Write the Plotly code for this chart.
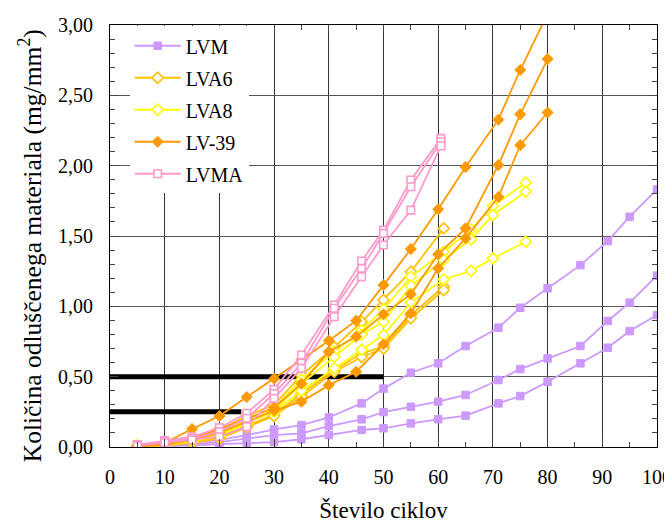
import plotly.graph_objects as go

# ---------------- data ----------------
LVM_x = [5, 10, 15, 20, 25, 30, 35, 40, 46, 50, 55, 60, 65, 71, 75, 80, 86, 91, 95, 100]
LVM_1 = [0.01, 0.015, 0.03, 0.05, 0.085, 0.125, 0.156, 0.21, 0.31, 0.415, 0.528, 0.595, 0.718, 0.848, 0.99, 1.128, 1.293, 1.464, 1.637, 1.831]
LVM_2 = [0.005, 0.01, 0.02, 0.035, 0.062, 0.085, 0.097, 0.149, 0.197, 0.248, 0.286, 0.322, 0.37, 0.476, 0.554, 0.63, 0.718, 0.896, 1.026, 1.218]
LVM_3 = [0.003, 0.005, 0.01, 0.02, 0.03, 0.035, 0.055, 0.085, 0.121, 0.133, 0.168, 0.197, 0.223, 0.31, 0.362, 0.464, 0.595, 0.706, 0.824, 0.938]

LVA6_x = [5, 10, 15, 20, 25, 30, 35, 41, 46, 50, 55, 61]
LVA6_1 = [0.01, 0.03, 0.06, 0.12, 0.22, 0.30, 0.51, 0.71, 0.89, 1.045, 1.246, 1.554]
LVA6_2 = [0.005, 0.02, 0.04, 0.07, 0.15, 0.23, 0.38, 0.547, 0.666, 0.713, 0.938, 1.139]
LVA6_3 = [0.005, 0.01, 0.03, 0.06, 0.14, 0.22, 0.358, 0.535, 0.64, 0.70, 0.915, 1.116]

LVA8_x = [5, 10, 15, 20, 25, 30, 35, 41, 46, 50, 55, 61, 66, 70, 76]
LVA8_1 = [0.01, 0.025, 0.05, 0.10, 0.20, 0.28, 0.48, 0.68, 0.83, 0.979, 1.21, 1.388, 1.547, 1.713, 1.879]
LVA8_2 = [0.01, 0.02, 0.045, 0.09, 0.18, 0.26, 0.45, 0.64, 0.80, 0.89, 1.146, 1.329, 1.476, 1.649, 1.815]
LVA8_3 = [0.005, 0.015, 0.04, 0.08, 0.17, 0.25, 0.40, 0.56, 0.69, 0.796, 1.028, 1.192, 1.253, 1.341, 1.459]

LV39_x = [5, 10, 15, 20, 25, 30, 35, 40, 45, 50, 55, 60, 65, 71, 75, 80]
LV39_1 = [0.005, 0.03, 0.128, 0.22, 0.355, 0.485, 0.62, 0.756, 0.898, 1.151, 1.407, 1.69, 1.99, 2.327, 2.68, 3.08]
LV39_2 = [0.005, 0.02, 0.06, 0.13, 0.20, 0.28, 0.45, 0.677, 0.784, 0.943, 1.087, 1.37, 1.554, 2.004, 2.365, 2.758]
LV39_3 = [0.005, 0.015, 0.05, 0.10, 0.18, 0.258, 0.322, 0.44, 0.535, 0.73, 0.95, 1.27, 1.483, 1.777, 2.146, 2.378]

LVMA_x = [5, 10, 15, 20, 25, 30, 35, 41, 46, 50, 55, 60.5]
LVMA_1 = [0.015, 0.045, 0.073, 0.137, 0.24, 0.41, 0.654, 1.009, 1.322, 1.542, 1.898, 2.194]
LVMA_2 = [0.015, 0.04, 0.06, 0.109, 0.204, 0.38, 0.595, 0.986, 1.27, 1.519, 1.85, 2.17]
LVMA_3 = [0.01, 0.03, 0.05, 0.073, 0.144, 0.346, 0.559, 0.926, 1.21, 1.436, 1.684, 2.14]

# reference (threshold) lines
REF1_x = [0, 50]
REF1_y = [0.5, 0.5]
REF2_x = [0, 24]
REF2_y = [0.25, 0.25]

x_ticks = [0, 10, 20, 30, 40, 50, 60, 70, 80, 90, 100]
y_ticks = [0, 0.5, 1.0, 1.5, 2.0, 2.5, 3.0]

FONT = "Liberation Serif, Times New Roman, serif"

fig = go.Figure()

for rx, ry in [(REF1_x, REF1_y), (REF2_x, REF2_y)]:
    fig.add_trace(go.Scatter(x=rx, y=ry, mode="lines",
                             line=dict(color="black", width=5),
                             showlegend=False, hoverinfo="skip", cliponaxis=False))

series = [
    ("LVM", LVM_x, [LVM_1, LVM_2, LVM_3], "#CC99FF", "square", True),
    ("LVA6", LVA6_x, [LVA6_1, LVA6_2, LVA6_3], "#FFC000", "diamond", False),
    ("LVA8", LVA8_x, [LVA8_1, LVA8_2, LVA8_3], "#FFFF00", "diamond", False),
    ("LV-39", LV39_x, [LV39_1, LV39_2, LV39_3], "#FF9900", "diamond", True),
    ("LVMA", LVMA_x, [LVMA_1, LVMA_2, LVMA_3], "#FF99CC", "square", False),
]

for name, xs, ys_list, col, sym, filled in series:
    for i, ys in enumerate(ys_list):
        if filled:
            marker = dict(symbol=sym, size=8.5 if sym == "diamond" else 7.5, color=col,
                          line=dict(color=col, width=1))
        else:
            marker = dict(symbol=sym, size=8.5 if sym == "diamond" else 7.5, color="white",
                          line=dict(color=col, width=1.6))
        fig.add_trace(go.Scatter(
            x=xs, y=ys, mode="lines+markers", name=name,
            legendgroup=name, showlegend=(i == 0),
            line=dict(color=col, width=1.8), marker=marker))

fig.update_layout(
    width=664, height=517,
    margin=dict(l=102, r=15, t=17, b=78),
    paper_bgcolor="white", plot_bgcolor="white",
    separators=", ",
    font=dict(family=FONT, size=20, color="black"),
    showlegend=True,
    legend=dict(x=0.036, y=0.997, xanchor="left", yanchor="top",
                bgcolor="white", borderwidth=0,
                font=dict(family=FONT, size=20),
                tracegroupgap=3, itemwidth=46, traceorder="grouped"),
    xaxis=dict(range=[0, 100], tickvals=x_ticks, ticks="inside", ticklen=8,
               showgrid=True, gridcolor="#333333", gridwidth=1,
               showline=True, linecolor="black", linewidth=1, mirror="ticks",
               zeroline=False, tickfont=dict(family=FONT, size=20),
               automargin=False, ticklabelstandoff=12,
               minor=dict(dtick=5, ticks="inside", ticklen=5, showgrid=False),
               title=dict(text="Število ciklov", font=dict(family=FONT, size=23), standoff=14)),
    yaxis=dict(range=[0, 3], tickvals=y_ticks, tickformat=".2f", ticks="inside", ticklen=8,
               showgrid=True, gridcolor="#555555", gridwidth=1,
               showline=True, linecolor="black", linewidth=1, mirror="ticks",
               zeroline=False, tickfont=dict(family=FONT, size=20),
               automargin=False, ticklabelstandoff=12,
               minor=dict(dtick=0.1, ticks="inside", ticklen=5, showgrid=False)),
    annotations=[dict(text="Količina odluščenega materiala (mg/mm<sup>2</sup>)",
                      xref="paper", yref="paper", x=-0.146, y=0.476,
                      xanchor="center", yanchor="middle", textangle=-90,
                      showarrow=False, font=dict(family=FONT, size=25.5))],
)

fig.write_html("out.html")
